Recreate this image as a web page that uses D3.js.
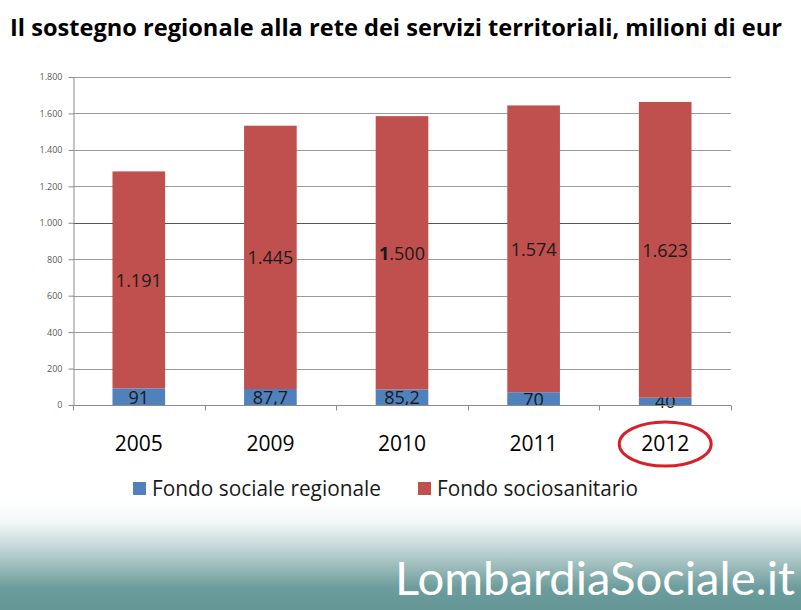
<!DOCTYPE html>
<html>
<head>
<meta charset="utf-8">
<script src="https://cdn.jsdelivr.net/npm/d3@7"></script>
<style>
  body { margin: 0; background: #fff; }
  svg { display: block; }
</style>
</head>
<body>
<svg id="chart" width="801" height="610"></svg>
<script>
// data
var years = ["2005", "2009", "2010", "2011", "2012"];
var fondoSociale = [91, 87.7, 85.2, 70, 40];
var fondoSociosanitario = [1191, 1445, 1500, 1574, 1623];
var yTicks = [0, 200, 400, 600, 800, 1000, 1200, 1400, 1600, 1800];
var seriesNames = ["Fondo sociale regionale", "Fondo sociosanitario"];
var seriesColors = ["#4f81bd", "#c0504d"];

var it = d3.formatLocale({ decimal: ",", thousands: ".", grouping: [3], currency: ["€", ""] });
var fmtInt = it.format(",d");
var fmtDec = function (v) { return Number.isInteger(v) ? fmtInt(v) : it.format(",.1f")(v) };

var svg = d3.select("#chart");
var W = 801, H = 610;
var font = "'Open Sans', 'Noto Sans', sans-serif";

//background gradient at the bottom
var defs = svg.append("defs");
var grad = defs.append("linearGradient")
  .attr("id", "bg").attr("x1", 0).attr("y1", 0).attr("x2", 0).attr("y2", 1);
grad.append("stop").attr("offset", "0%").attr("stop-color", "#ffffff");
grad.append("stop").attr("offset", "20%").attr("stop-color", "#f4f8f8");
grad.append("stop").attr("offset", "55%").attr("stop-color", "#a9c4c4");
grad.append("stop").attr("offset", "80%").attr("stop-color", "#6c9c9c");
grad.append("stop").attr("offset", "100%").attr("stop-color", "#659797");
svg.append("rect").attr("x", 0).attr("y", 500).attr("width", W).attr("height", 110)
  .attr("fill", "url(#bg)");

//title
svg.append("text")
  .attr("x", 10).attr("y", 36)
  .attr("font-family", font).attr("font-weight", "bold").attr("font-size", 24)
  .attr("textLength", 772).attr("lengthAdjust", "spacingAndGlyphs")
  .attr("fill", "#000")
  .text("Il sostegno regionale alla rete dei servizi territoriali, milioni di eur");

var margin = { left: 73, right: 70, top: 77, bottom: 205 };
var plotW = W - margin.left - margin.right;
var plotH = H - margin.top - margin.bottom;

var x = d3.scaleBand().domain(years).range([margin.left, margin.left + plotW]).paddingInner(0.6).paddingOuter(0.3);
var xOuter = d3.scaleBand().domain(years).range([margin.left, margin.left + plotW]);
var y = d3.scaleLinear().domain([0, 1800]).range([margin.top + plotH, margin.top]);

//gridlines
svg.append("g")
  .selectAll("line")
  .data(yTicks.slice(1))
  .enter().append("line")
  .attr("x1", margin.left).attr("x2", margin.left + plotW)
  .attr("y1", function (d) { return Math.round(y(d)) + 0.5 })
  .attr("y2", function (d) { return Math.round(y(d)) + 0.5 })
  .attr("stroke", function (d) { return d === 1000 ? "#555" : "#9a9a9a" })
  .attr("stroke-width", 1);

//y axis
var yAxis = svg.append("g")
  .attr("transform", "translate(" + (margin.left + 0.5) + ",0)")
  .call(d3.axisLeft(y).tickValues(yTicks).tickSize(5).tickSizeOuter(0).tickPadding(6).tickFormat(fmtInt));
yAxis.selectAll("text").attr("font-family", font).attr("font-size", 9).attr("fill", "#595959");
yAxis.selectAll("line, path").attr("stroke", "#8c8c8c");

//stack the two series
var rows = years.map(function (yr, i) {
  return { year: yr, sociale: fondoSociale[i], socio: fondoSociosanitario[i] };
});
var stack = d3.stack().keys(["sociale", "socio"])(rows);

var layers = svg.append("g").selectAll("g")
  .data(stack)
  .enter().append("g")
  .attr("fill", function (d, i) { return seriesColors[i] });

layers.selectAll("rect")
  .data(function (d) { return d })
  .enter().append("rect")
  .attr("x", function (d) { return x(d.data.year) })
  .attr("width", x.bandwidth())
  .attr("y", function (d) { return y(d[1]) })
  .attr("height", function (d) { return y(d[0]) - y(d[1]) });

//x axis
var xAxis = svg.append("g")
  .attr("transform", "translate(0," + (margin.top + plotH + 0.5) + ")");
xAxis.append("line")
  .attr("x1", margin.left).attr("x2", margin.left + plotW)
  .attr("stroke", "#8c8c8c");
xAxis.selectAll("line.tick")
  .data(years.concat(["end"]))
  .enter().append("line")
  .attr("class", "tick")
  .attr("x1", function (d, i) { return Math.round(margin.left + i * xOuter.step()) + 0.5 })
  .attr("x2", function (d, i) { return Math.round(margin.left + i * xOuter.step()) + 0.5 })
  .attr("y1", 0).attr("y2", 5)
  .attr("stroke", "#8c8c8c");

svg.append("g").selectAll("text")
  .data(years)
  .enter().append("text")
  .attr("x", function (d) { return x(d) + x.bandwidth() / 2 })
  .attr("y", 451)
  .attr("text-anchor", "middle")
  .attr("font-family", font).attr("font-size", 21)
  .attr("fill", "#000")
  .text(function (d) { return d });

//value labels inside the segments
layers.selectAll("text")
  .data(function (d) { return d })
  .enter().append("text")
  .attr("x", function (d) { return x(d.data.year) + x.bandwidth() / 2 })
  .attr("y", function (d) { return (y(d[0]) + y(d[1])) / 2 + 7 })
  .attr("text-anchor", "middle")
  .attr("font-family", font).attr("font-size", 18)
  .attr("fill", "#1a1a1a")
  .each(function (d) {
    var v = d[1] - d[0];
    var t = d3.select(this);
    if (v > 1000) {
      var s = fmtInt(Math.round(v));
      if (d.data.year === "2010") {
        t.append("tspan").attr("font-weight", "bold").text(s.slice(0, 1));
        t.append("tspan").text(s.slice(1));
      } else t.text(s);
    } else {
      t.text(fmtDec(Math.round(v * 10) / 10));
    }
  });

//red circle around 2012
svg.append("ellipse")
  .attr("cx", x("2012") + x.bandwidth() / 2)
  .attr("cy", 444)
  .attr("rx", 46).attr("ry", 22)
  .attr("fill", "none")
  .attr("stroke", "#d7202a")
  .attr("stroke-width", 3);

//legend
var legendX = [133, 418];
var legendLen = [229, 201];
var legend = svg.append("g").selectAll("g")
  .data(seriesNames)
  .enter().append("g")
  .attr("transform", function (d, i) { return "translate(" + legendX[i] + ",482)" });
legend.append("rect")
  .attr("width", 13).attr("height", 13)
  .attr("fill", function (d, i) { return seriesColors[i] });
legend.append("text")
  .attr("x", 19).attr("y", 14)
  .attr("font-family", font).attr("font-size", 21)
  .attr("textLength", function (d, i) { return legendLen[i] })
  .attr("lengthAdjust", "spacingAndGlyphs")
  .attr("fill", "#1a1a1a")
  .text(function (d) { return d });

//logo
svg.append("text")
  .attr("x", 395).attr("y", 595)
  .attr("font-family", "Lato, sans-serif").attr("font-size", 46)
  .attr("textLength", 400).attr("lengthAdjust", "spacingAndGlyphs")
  .attr("fill", "#ffffff")
  .text("LombardiaSociale.it");
</script>
</body>
</html>
